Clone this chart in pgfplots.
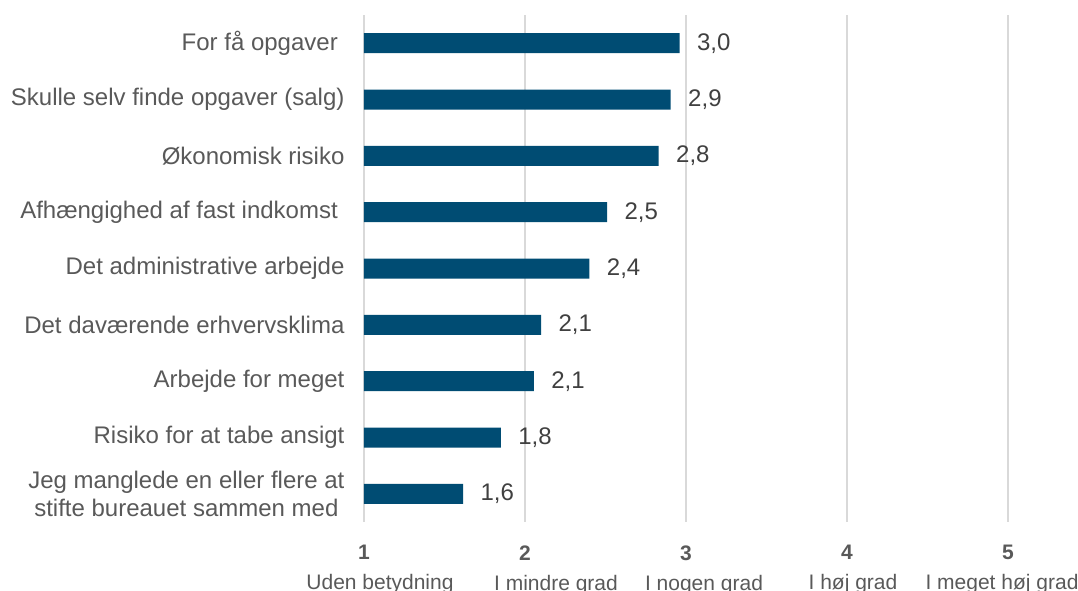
\documentclass[border=0pt]{standalone}
\usepackage{pgfplots}
\pgfplotsset{compat=1.18}
\usepackage{fontspec}
\setmainfont{Liberation Sans}
\definecolor{barblue}{RGB}{0,76,115}
\definecolor{gridgray}{RGB}{217,217,217}
\definecolor{txtgray}{RGB}{89,89,89}
\definecolor{valgray}{RGB}{64,64,64}
\begin{document}
\begin{tikzpicture}
\useasboundingbox (-364pt,-68pt) rectangle (714pt,522pt);
\begin{axis}[
  at={(0pt,0pt)}, anchor=south west,
  scale only axis, width=644pt, height=507pt,
  xmin=1, xmax=5, ymin=-0.5, ymax=8.5, y dir=reverse,
  xbar, bar width=20pt,
  axis line style={draw=none},
  major tick length=0pt,
  xmajorgrids, grid style={gridgray, line width=1.5pt},
  xtick={1,2,3,4,5},
  xticklabels={{\textbf{1}\\\hspace*{32pt}Uden betydning},{\textbf{2}\\\hspace*{62pt}I mindre grad},{\textbf{3}\\\hspace*{36pt}I nogen grad},{\textbf{4}\\\hspace*{12pt}I høj grad},{\textbf{5}\\I meget høj grad\hspace*{12pt}}},
  xticklabel style={align=center, text=txtgray, font=\fontsize{21}{30}\selectfont, yshift=-20pt},
  ytick={0,...,8},
  yticklabels={{For få opgaver },{Skulle selv finde opgaver (salg)},{Økonomisk risiko},{Afhængighed af fast indkomst },{Det administrative arbejde},{Det daværende erhvervsklima},{Arbejde for meget},{Risiko for at tabe ansigt},{Jeg manglede en eller flere at\\stifte bureauet sammen med}},
  yticklabel style={align=center, text=txtgray, font=\fontsize{24}{28}\selectfont, xshift=-16pt},
  nodes near coords,
  point meta=explicit symbolic,
  nodes near coords style={anchor=west, text=valgray, font=\fontsize{24}{28}\selectfont, xshift=14pt},
]
\addplot[fill=barblue, draw=none] coordinates {
  (2.96,0) [3,0]
  (2.905,1) [2,9]
  (2.83,2) [2,8]
  (2.51,3) [2,5]
  (2.40,4) [2,4]
  (2.10,5) [2,1]
  (2.055,6) [2,1]
  (1.85,7) [1,8]
  (1.615,8) [1,6]
};
\end{axis}
\end{tikzpicture}
\end{document}
